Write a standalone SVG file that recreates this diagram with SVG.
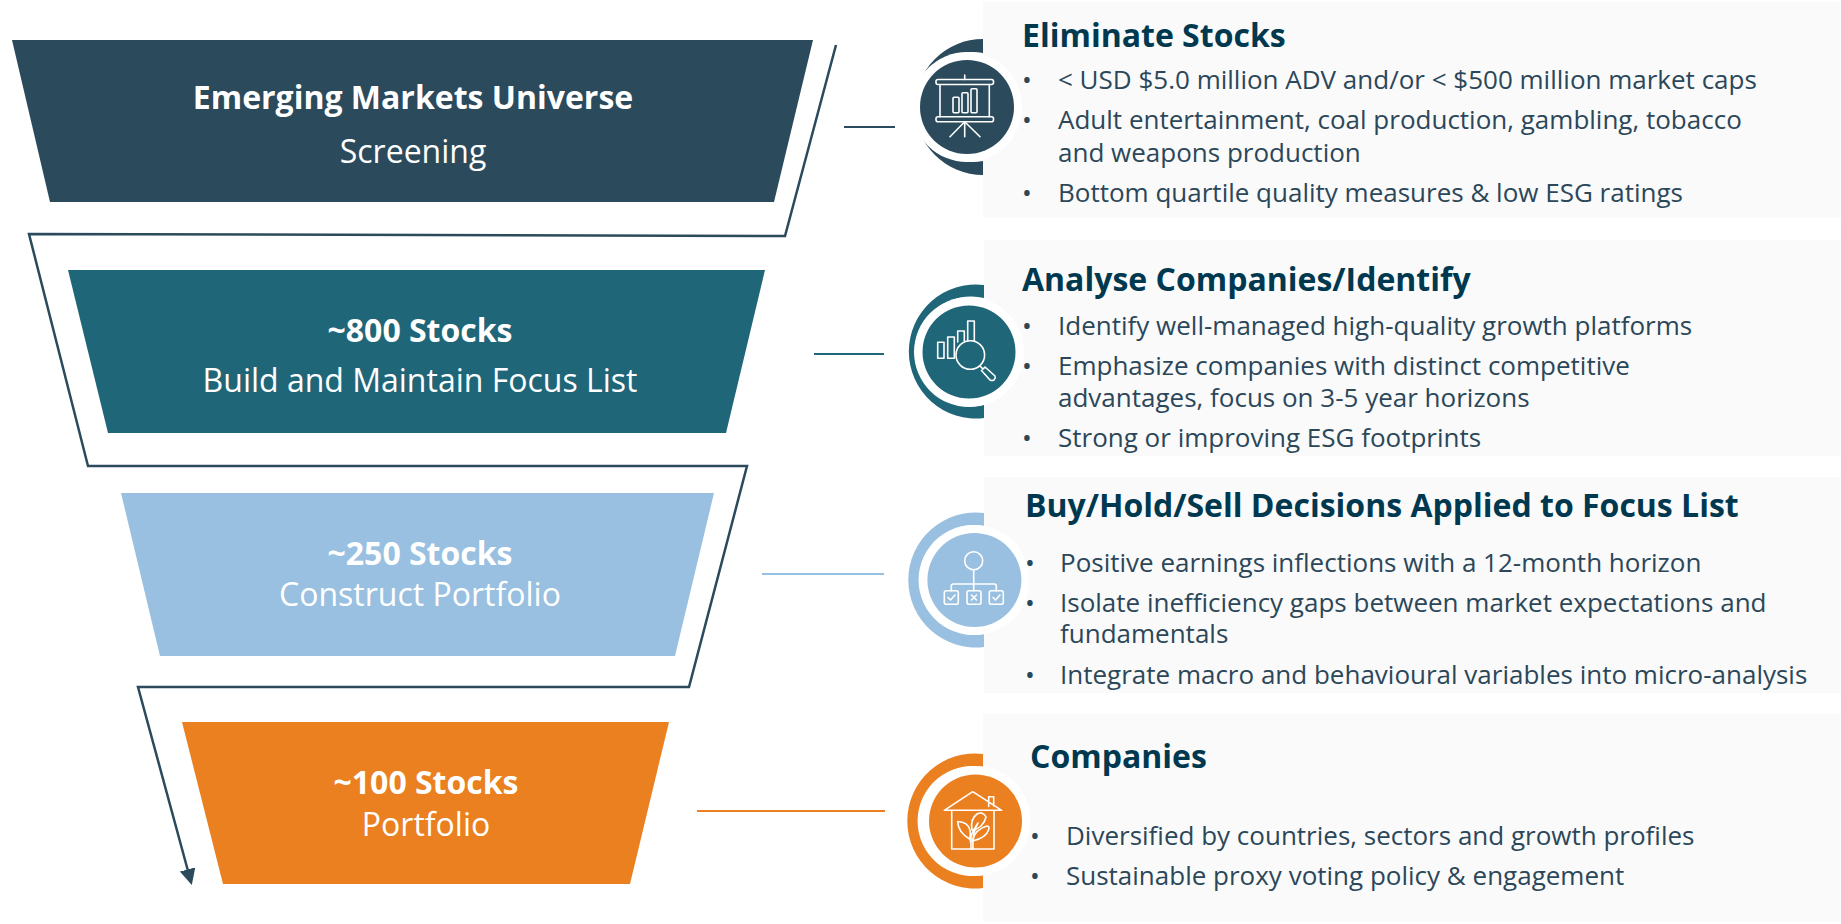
<svg xmlns="http://www.w3.org/2000/svg" width="1841" height="924" viewBox="0 0 1841 924">
<style>
text{font-family:"Open Sans","Noto Sans",sans-serif}
.h{font-size:32px;font-weight:700;fill:#fff;text-anchor:middle}
.s{font-size:32px;fill:#fff;text-anchor:middle}
.t{font-size:32px;font-weight:700;fill:#00394f}
.b{font-size:26px;fill:#2b4759}
.p{fill:#fafafa}
.i{fill:none;stroke:#fff;stroke-width:1.6;stroke-linejoin:round;stroke-linecap:round}
.w{fill:#fff}
</style>
<defs>
<marker id="a" markerUnits="userSpaceOnUse" markerWidth="18" markerHeight="18" refX="13" refY="8" orient="auto"><path d="M0 0L16 8L0 16Z" fill="#2b4a5c"/></marker>
</defs>
<rect width="1841" height="924" fill="#fff"/>
<g id="panel-1"><rect class="p" x="983" y="2" width="858" height="216"/></g>
<g id="panel-2"><rect class="p" x="984" y="240" width="857" height="216"/></g>
<g id="panel-3"><rect class="p" x="984" y="477" width="857" height="216"/></g>
<g id="panel-4"><rect class="p" x="983" y="714" width="858" height="208"/></g>
<g id="connectors" fill="none">
<path d="M836 45L785 236L29 234L88 466L747 466L689 687L138 687L191 882" stroke="#2b4a5c" stroke-width="2.5" marker-end="url(#a)"/>
<path d="M844 127H895" stroke="#2b4a5c" stroke-width="2"/>
<path d="M814 354H884" stroke="#1f6678" stroke-width="2"/>
<path d="M762 574H884" stroke="#99c0e0" stroke-width="2"/>
<path d="M697 811H885" stroke="#ea801f" stroke-width="2"/>
</g>
<g id="stage-1">
<path d="M12 40H813L774 202H50Z" fill="#2b4a5c"/>
<text class="h" x="413" y="109">Emerging Markets Universe</text>
<text class="s" x="413" y="163">Screening</text>
</g>
<g id="stage-2">
<path d="M68 270H765L726 433H108Z" fill="#1f6678"/>
<text class="h" x="420" y="342">~800 Stocks</text>
<text class="s" x="420" y="392">Build and Maintain Focus List</text>
</g>
<g id="stage-3">
<path d="M121 493H714L675 656H160Z" fill="#99c0e0"/>
<text class="h" x="420" y="565">~250 Stocks</text>
<text class="s" x="420" y="606">Construct Portfolio</text>
</g>
<g id="stage-4">
<path d="M182 722H669L630 884H223Z" fill="#ea801f"/>
<text class="h" x="426" y="794">~100 Stocks</text>
<text class="s" x="426" y="836">Portfolio</text>
</g>
<g id="icon-1">
<path d="M983 39A68 68 0 1 0 983 175V161A55 55 0 1 1 983 53Z" fill="#2b4a5c"/>
<circle class="w" cx="967" cy="107" r="55"/>
<circle cx="967" cy="107" r="47" fill="#2b4a5c"/>
<g class="i">
<rect x="936" y="79.5" width="57.5" height="5" rx="2"/>
<path d="M964.7 75V79.5M940 84.500V116.700M989.300 84.500V116.700M964.700 121.700V136.700M964.700 121.700L950 136.700M964.700 121.700L980 136.700"/>
<rect x="936" y="116.700" width="57.500" height="5" rx="2"/>
<rect x="953" y="97.300" width="6" height="15.400" rx="1"/>
<rect x="962" y="92.700" width="6" height="20" rx="1"/>
<rect x="971" y="88.700" width="6" height="24" rx="1"/>
</g>
</g>
<g id="icon-2">
<path d="M984 285A67 67 0 1 0 984 418V405A55 55 0 1 1 984 298Z" fill="#1f6678"/>
<circle class="w" cx="969" cy="352" r="55"/>
<circle cx="969" cy="352" r="46.500" fill="#1f6678"/>
<g class="i">
<rect x="937.700" y="342.300" width="6.300" height="16"/>
<rect x="947.700" y="337" width="6.600" height="21.300"/>
<path d="M957.700 342V331H964.300V341M967.700 341V321H974.300V341"/>
<circle cx="970.300" cy="355" r="14.300"/>
<path d="M980 366L983 369M981.500 370.500L985 367L995 376Q996 378 994 380Q992 381 990 380Z"/>
</g>
</g>
<g id="icon-3">
<path d="M984 513A67.500 67.500 0 1 0 984 647V634A55 55 0 1 1 984 526Z" fill="#99c0e0"/>
<circle class="w" cx="974.400" cy="580" r="55"/>
<circle cx="974.400" cy="580" r="47" fill="#99c0e0"/>
<g class="i">
<circle cx="973.700" cy="560.700" r="9"/>
<path d="M973.700 569.700V590.700M951.300 590.700V586Q951.300 584 953.300 584H994.300Q996.300 584 996.300 586V590.700"/>
<rect x="944.300" y="590.700" width="14" height="13.500" rx="2"/>
<rect x="967" y="590.700" width="14" height="13.500" rx="2"/>
<rect x="989.300" y="590.700" width="14" height="13.500" rx="2"/>
<path d="M948 597.500L950.500 600L955 595M971.500 595L976.500 600M976.500 595L971.500 600M993 597.500L995.500 600L1000 595"/>
</g>
</g>
<g id="icon-4">
<path d="M983 754A67.500 67.500 0 1 0 983 888V875A55 55 0 1 1 983 767Z" fill="#ea801f"/>
<circle class="w" cx="975.500" cy="821" r="55"/>
<circle cx="975.500" cy="821" r="46.500" fill="#ea801f"/>
<g class="i">
<path d="M951.700 810.300V849H994V810.300M944.300 810.300L972.700 791.700L1001.700 810.300ZM988.700 806.500V796.700H993.700V806"/>
<path d="M971 849V835M973 849Q972 832 978 823Q968 838 971 843"/>
<path d="M969.500 839Q958 832 957.700 821.500Q968 822 970 830Q971 835 969.500 839Z"/>
<path d="M972 830Q970 819 977 814Q983 811 986 817Q985 822 981 826Q976 830 972 830Z"/>
<path d="M972.500 841Q975 829 987 826Q990 826 988.500 830Q986 838 972.500 841Z"/>
</g>
</g>
<g id="text-1">
<text class="t" x="1022" y="47">Eliminate Stocks</text>
<text class="b" x="1022" y="89">•</text><text class="b" x="1058" y="89">&lt; USD $5.0 million ADV and/or &lt; $500 million market caps</text>
<text class="b" x="1022" y="129">•</text><text class="b" x="1058" y="129">Adult entertainment, coal production, gambling, tobacco</text>
<text class="b" x="1058" y="162">and weapons production</text>
<text class="b" x="1022" y="202">•</text><text class="b" x="1058" y="202">Bottom quartile quality measures &amp; low ESG ratings</text>
</g>
<g id="text-2">
<text class="t" x="1022" y="291">Analyse Companies/Identify</text>
<text class="b" x="1022" y="335">•</text><text class="b" x="1058" y="335">Identify well-managed high-quality growth platforms</text>
<text class="b" x="1022" y="375">•</text><text class="b" x="1058" y="375">Emphasize companies with distinct competitive</text>
<text class="b" x="1058" y="407">advantages, focus on 3-5 year horizons</text>
<text class="b" x="1022" y="447">•</text><text class="b" x="1058" y="447">Strong or improving ESG footprints</text>
</g>
<g id="text-3">
<text class="t" x="1025" y="517">Buy/Hold/Sell Decisions Applied to Focus List</text>
<text class="b" x="1025" y="572">•</text><text class="b" x="1060" y="572">Positive earnings inflections with a 12-month horizon</text>
<text class="b" x="1025" y="612">•</text><text class="b" x="1060" y="612">Isolate inefficiency gaps between market expectations and</text>
<text class="b" x="1060" y="643">fundamentals</text>
<text class="b" x="1025" y="684">•</text><text class="b" x="1060" y="684">Integrate macro and behavioural variables into micro-analysis</text>
</g>
<g id="text-4">
<text class="t" x="1030" y="768">Companies</text>
<text class="b" x="1030" y="845">•</text><text class="b" x="1066" y="845">Diversified by countries, sectors and growth profiles</text>
<text class="b" x="1030" y="885">•</text><text class="b" x="1066" y="885">Sustainable proxy voting policy &amp; engagement</text>
</g>
</svg>
